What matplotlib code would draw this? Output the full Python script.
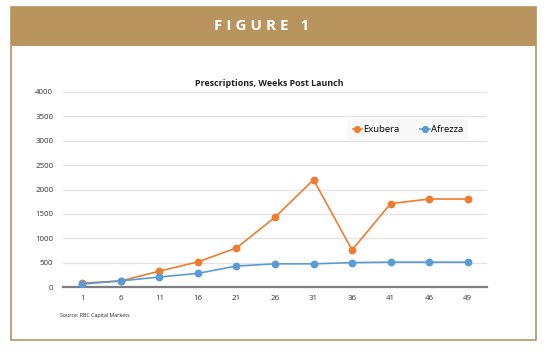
import matplotlib.pyplot as plt
from matplotlib.patches import Rectangle

# --- data ---
weeks = ["1", "6", "11", "16", "21", "26", "31", "36", "41", "46", "49"]
exubera = [80, 125, 325, 515, 800, 1430, 2200, 760, 1710, 1805, 1805]
afrezza = [60, 125, 205, 280, 430, 475, 475, 500, 510, 510, 510]
y_ticks = [0, 500, 1000, 1500, 2000, 2500, 3000, 3500, 4000]

TAN = "#B8945F"
ORANGE = "#ED7D31"
BLUE = "#5B9BD5"
W, H = 550, 351

plt.rcParams['font.family'] = ['Open Sans', 'DejaVu Sans']

fig = plt.figure(figsize=(W / 100, H / 100), dpi=100)

# frame and header band (figure pixel coords -> fractions)
def fx(px):
    return px / W

def fy(py):
    return 1 - py / H

fig.patches.append(Rectangle((fx(11), fy(340)), fx(536) - fx(11), fy(7) - fy(340),
                             transform=fig.transFigure, facecolor="white",
                             edgecolor=TAN, linewidth=1.2, zorder=0))
fig.patches.append(Rectangle((fx(11), fy(46)), fx(536) - fx(11), fy(7) - fy(46),
                             transform=fig.transFigure, facecolor=TAN,
                             edgecolor="none", zorder=1))
fig.text(fx(262), fy(26.5), "F I G U R E   1", color="white", fontsize=11,
         fontweight="bold", ha="center", va="center")

# plot area
ax = fig.add_axes([fx(63), fy(287), fx(487) - fx(63), fy(92) - fy(287)])
ax.set_zorder(5)
x = range(len(weeks))
ax.plot(x, exubera, color=ORANGE, marker="o", markersize=4.6, linewidth=1.2,
        label="Exubera", zorder=3)
ax.plot(x, afrezza, color=BLUE, marker="o", markersize=4.6, linewidth=1.2,
        label="Afrezza", zorder=3)

ax.set_xlim(-0.5, len(weeks) - 0.5)
ax.set_ylim(0, 4000)
ax.set_xticks(list(x))
ax.set_xticklabels(weeks)
ax.set_yticks(y_ticks)
ax.tick_params(axis="both", length=0, labelsize=5.7, colors="#333333")
ax.tick_params(axis="x", pad=6)
ax.tick_params(axis="y", pad=7)
ax.grid(axis="y", color="#E3E3E3", linewidth=0.9)
ax.set_axisbelow(True)
for side in ["top", "right", "left"]:
    ax.spines[side].set_visible(False)
ax.spines["bottom"].set_color("#7F7F7F")
ax.spines["bottom"].set_linewidth(1.6)
ax.set_facecolor("none")

leg = ax.legend(loc="upper left", bbox_to_anchor=(0.67, 0.86), ncol=2,
                frameon=True, fontsize=6.8, handlelength=1.0, handletextpad=0.1,
                columnspacing=2.2, borderpad=0.6, markerscale=0.9,
                borderaxespad=0)
leg.get_frame().set_facecolor("#F7F7F7")
leg.get_frame().set_edgecolor("none")
leg.get_frame().set_boxstyle("square", pad=0)

fig.text(fx(269), fy(83), "Prescriptions, Weeks Post Launch", fontsize=6.4,
         fontweight="bold", ha="center", va="center", color="#222222")
fig.text(fx(60), fy(315), "Source: RBC Capital Markets", fontsize=3.8,
         ha="left", va="center", color="#222222")

fig.savefig("out.png", dpi=100)
